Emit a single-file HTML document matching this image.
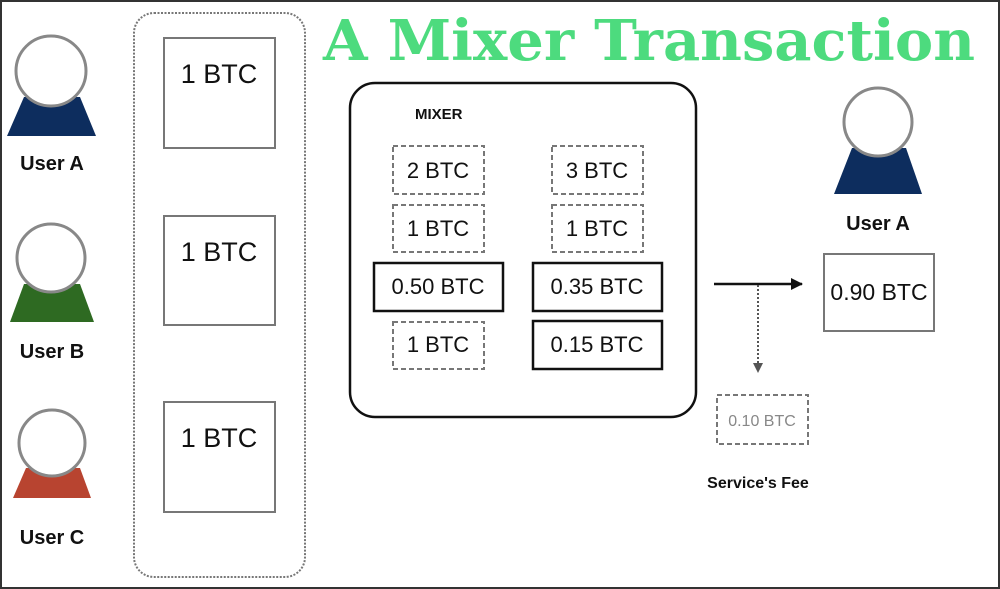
<!DOCTYPE html>
<html><head><style>
html,body{margin:0;padding:0;background:#fff}
svg{display:block}
text{font-family:"Liberation Sans",sans-serif}
</style></head><body>
<svg width="1000" height="589" viewBox="0 0 1000 589" xmlns="http://www.w3.org/2000/svg">
<rect x="1" y="1" width="998" height="587" fill="#fff" stroke="#333" stroke-width="2"/>
<defs>
<marker id="ah" markerWidth="12" markerHeight="12" refX="11" refY="6" orient="auto" markerUnits="userSpaceOnUse"><path d="M0,0 L12,6 L0,12 z" fill="#111"/></marker>
<marker id="ah2" markerWidth="10" markerHeight="10" refX="9" refY="5" orient="auto" markerUnits="userSpaceOnUse"><path d="M0,0 L10,5 L0,10 z" fill="#555"/></marker>
</defs>
<!-- users left -->
<path d="M24,97 L80,97 L96,136 L7,136 Z" fill="#0d2d5e"/>
<circle cx="51" cy="71" r="35" fill="#fff" stroke="#888" stroke-width="3"/>
<text x="52" y="170" font-size="20" font-weight="bold" text-anchor="middle" fill="#111">User A</text>
<path d="M24,284 L80,284 L94,322 L10,322 Z" fill="#2e6a22"/>
<circle cx="51" cy="258" r="34" fill="#fff" stroke="#888" stroke-width="3"/>
<text x="52" y="358" font-size="20" font-weight="bold" text-anchor="middle" fill="#111">User B</text>
<path d="M26,468 L80,468 L91,498 L13,498 Z" fill="#b84430"/>
<circle cx="52" cy="443" r="33" fill="#fff" stroke="#888" stroke-width="3"/>
<text x="52" y="544" font-size="20" font-weight="bold" text-anchor="middle" fill="#111">User C</text>
<!-- dotted container -->
<rect x="134" y="13" width="171" height="564" rx="20" fill="none" stroke="#777" stroke-width="2" stroke-dasharray="2,1.5"/>
<g fill="#fff" stroke="#777" stroke-width="2">
<rect x="164" y="38" width="111" height="110"/>
<rect x="164" y="216" width="111" height="109"/>
<rect x="164" y="402" width="111" height="110"/>
</g>
<g font-size="27" fill="#111" text-anchor="middle">
<text x="219" y="83">1 BTC</text>
<text x="219" y="261">1 BTC</text>
<text x="219" y="447">1 BTC</text>
</g>
<!-- title -->
<text x="323" y="60" font-size="56" font-weight="bold" fill="#4ddb7e" textLength="652" lengthAdjust="spacingAndGlyphs" style="font-family:'DejaVu Serif',serif">A Mixer Transaction</text>
<!-- mixer -->
<rect x="350" y="83" width="346" height="334" rx="25" fill="none" stroke="#111" stroke-width="2.5"/>
<text x="415" y="119" font-size="15" font-weight="bold" fill="#111">MIXER</text>
<g fill="none" stroke="#777" stroke-width="2" stroke-dasharray="5,3">
<rect x="393" y="146" width="91" height="48"/>
<rect x="393" y="205" width="91" height="47"/>
<rect x="393" y="322" width="91" height="47"/>
<rect x="552" y="146" width="91" height="48"/>
<rect x="552" y="205" width="91" height="47"/>
<rect x="717" y="395" width="91" height="49"/>
</g>
<g fill="none" stroke="#111" stroke-width="2.5">
<rect x="374" y="263" width="129" height="48"/>
<rect x="533" y="263" width="129" height="48"/>
<rect x="533" y="321" width="129" height="48"/>
</g>
<g font-size="22" fill="#111" text-anchor="middle">
<text x="438" y="178">2 BTC</text>
<text x="438" y="236">1 BTC</text>
<text x="438" y="294">0.50 BTC</text>
<text x="438" y="352">1 BTC</text>
<text x="597" y="178">3 BTC</text>
<text x="597" y="236">1 BTC</text>
<text x="597" y="294">0.35 BTC</text>
<text x="597" y="352">0.15 BTC</text>
</g>
<!-- arrows -->
<line x1="714" y1="284" x2="802" y2="284" stroke="#111" stroke-width="2.5" marker-end="url(#ah)"/>
<line x1="758" y1="285" x2="758" y2="372" stroke="#555" stroke-width="2" stroke-dasharray="2,2" marker-end="url(#ah2)"/>
<text x="762" y="426" font-size="16" fill="#888" text-anchor="middle">0.10 BTC</text>
<text x="758" y="488" font-size="16" font-weight="bold" fill="#111" text-anchor="middle">Service's Fee</text>
<!-- right user -->
<path d="M852,148 L906,148 L922,194 L834,194 Z" fill="#0d2d5e"/>
<circle cx="878" cy="122" r="34" fill="#fff" stroke="#888" stroke-width="3"/>
<text x="878" y="230" font-size="20" font-weight="bold" text-anchor="middle" fill="#111">User A</text>
<rect x="824" y="254" width="110" height="77" fill="#fff" stroke="#777" stroke-width="2"/>
<text x="879" y="300" font-size="23" fill="#111" text-anchor="middle">0.90 BTC</text>
</svg>
</body></html>
